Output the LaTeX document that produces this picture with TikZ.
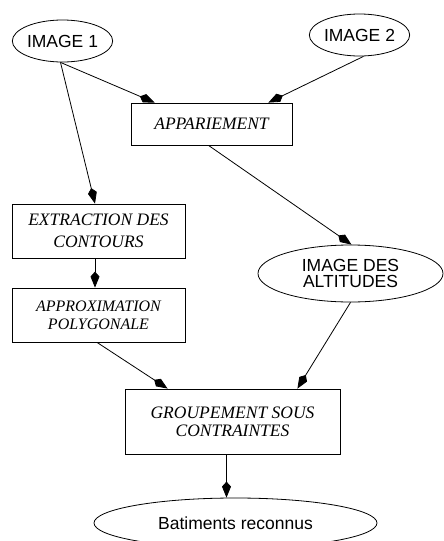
\documentclass[tikz,border=0pt]{standalone}
\usepackage{fontspec}
\setmainfont{Liberation Serif}
\setsansfont{Liberation Sans}
\usetikzlibrary{arrows.meta,shapes.geometric}
\tikzset{
  etape/.style={draw, line width=0.8pt, inner sep=0pt, align=center,
    font=\itshape\fontsize{17.5}{22}\selectfont},
  donnee/.style={draw, ellipse, line width=0.8pt, inner sep=0pt, align=center,
    font=\sffamily\fontsize{17.5}{16}\selectfont},
  flux/.style={line width=0.8pt, -{Kite[length=16pt,width=9pt,inset=5pt]}}
}
\begin{document}
\begin{tikzpicture}[x=1pt,y=-1pt]
            \useasboundingbox (0,0) rectangle (444,541);
            % Donnees
            \node[donnee, minimum width=91pt, minimum height=42pt] (img1) at (62.5,41) {IMAGE 1};
            \node[donnee, minimum width=89pt, minimum height=42pt] (img2) at (359.5,35) {IMAGE 2};
            \node[donnee, minimum width=185pt, minimum height=57pt] (alt) at (350.5,273.5) {IMAGE DES\\ALTITUDES};
            \node[donnee, minimum width=283pt, minimum height=50pt] (bat) at (235.5,523) {Batiments reconnus};
            % Etapes
            \node[etape, minimum width=161pt, minimum height=42pt] (app) at (211.5,124) {APPARIEMENT};
            \node[etape, minimum width=173pt, minimum height=54pt] (ext) at (98.5,231) {EXTRACTION DES\\CONTOURS};
            \node[etape, minimum width=173pt, minimum height=54pt, font=\itshape\fontsize{16}{18}\selectfont] (appr) at (98.5,315) {APPROXIMATION\\POLYGONALE};
            \node[etape, minimum width=215pt, minimum height=65pt, font=\itshape\fontsize{17.5}{18}\selectfont] (grp) at (232.5,421.5) {GROUPEMENT SOUS\\CONTRAINTES};
            % Liens
            \draw[flux] ([xshift=-2pt]img1.south) -- ([xshift=24pt]app.north west);
            \draw[flux] ([xshift=-2pt]img1.south) -- ([xshift=-3.5pt]ext.north);
            \draw[flux] ([xshift=4pt]img2.south) -- ([xshift=-24pt]app.north east);
            \draw[flux] ([xshift=-3pt]app.south) -- ([xshift=1pt]alt.north);
            \draw[flux] ([xshift=-3.5pt]ext.south) -- ([xshift=-3.5pt]appr.north);
            \draw[flux] ([xshift=-1.5pt]appr.south) -- ([xshift=43pt]grp.north west);
            \draw[flux] (alt.south) -- ([xshift=-43pt]grp.north east);
            \draw[flux] ([xshift=-6pt]grp.south) -- ([xshift=-9pt]bat.north);
\end{tikzpicture}
\end{document}
